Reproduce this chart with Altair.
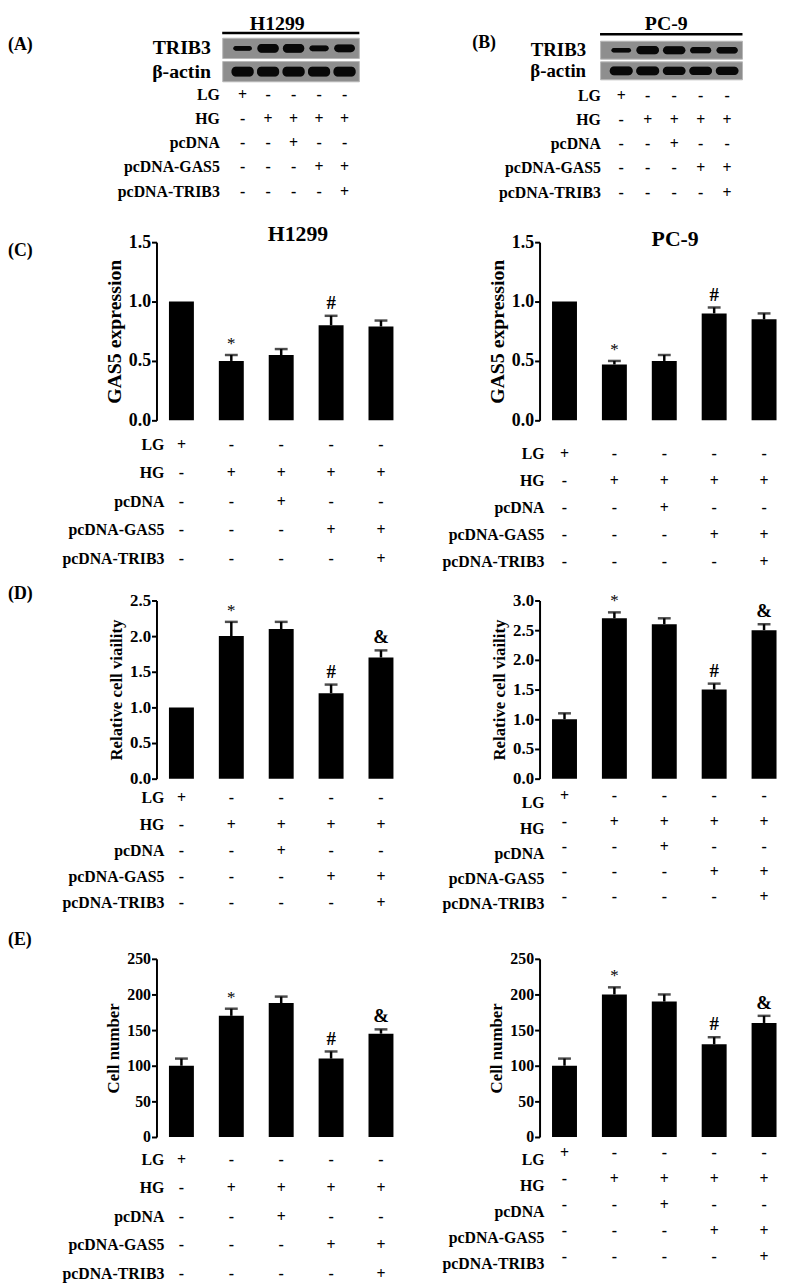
import altair as alt
import pandas as pd

FONT = "Liberation Serif"

# ---------------- data ----------------
groups = ["LG", "HG", "HG+pcDNA", "HG+pcDNA-GAS5", "HG+pcDNA-GAS5+pcDNA-TRIB3"]
rows = ["LG", "HG", "pcDNA", "pcDNA-GAS5", "pcDNA-TRIB3"]
sign_lg = ["+", "-", "-", "-", "-"]
sign_hg = ["-", "+", "+", "+", "+"]
sign_pcdna = ["-", "-", "+", "-", "-"]
sign_gas5 = ["-", "-", "-", "+", "+"]
sign_trib3 = ["-", "-", "-", "-", "+"]
signs = {"LG": sign_lg, "HG": sign_hg, "pcDNA": sign_pcdna,
         "pcDNA-GAS5": sign_gas5, "pcDNA-TRIB3": sign_trib3}

# western blot band intensities (relative)
a_trib3 = [0.45, 0.85, 0.85, 0.55, 0.75]
a_actin = [0.95, 0.95, 0.95, 0.95, 0.95]
b_trib3 = [0.50, 0.90, 0.88, 0.70, 0.72]
b_actin = [0.95, 0.95, 0.92, 0.92, 0.92]

# (C) GAS5 expression
c_h1299_mean = [1.00, 0.50, 0.55, 0.80, 0.79]
c_h1299_err = [0.00, 0.05, 0.05, 0.08, 0.05]
c_pc9_mean = [1.00, 0.47, 0.50, 0.90, 0.85]
c_pc9_err = [0.00, 0.03, 0.05, 0.05, 0.05]
c_marks = ["", "*", "", "#", ""]

# (D) Relative cell viability
d_h1299_mean = [1.00, 2.00, 2.10, 1.20, 1.70]
d_h1299_err = [0.00, 0.20, 0.10, 0.12, 0.10]
d_pc9_mean = [1.00, 2.70, 2.60, 1.50, 2.50]
d_pc9_err = [0.10, 0.10, 0.10, 0.10, 0.10]
d_marks = ["", "*", "", "#", "&"]

# (E) Cell number
e_h1299_mean = [100, 170, 188, 110, 145]
e_h1299_err = [10, 10, 9, 10, 6]
e_pc9_mean = [100, 200, 190, 130, 160]
e_pc9_err = [10, 10, 10, 10, 10]
e_marks = ["", "*", "", "#", "&"]

# ---------------- helpers ----------------
W = 252
LETTER_X = -150


def text_chart(txt, x, y, size, align="left", baseline="middle"):
    return alt.Chart(pd.DataFrame({"t": [txt]})).mark_text(
        font=FONT, fontWeight="bold", fontSize=size, align=align,
        baseline=baseline, color="black"
    ).encode(text="t:N", x=alt.value(x), y=alt.value(y))


def table(x_scale, row_range, label_x, label_dy, x_is_band=True):
    recs = []
    for r in rows:
        for i, s in enumerate(signs[r]):
            recs.append({"row": r, "group": groups[i], "lane": i + 1, "sign": s})
    sdf = pd.DataFrame(recs)
    if x_is_band:
        xenc = alt.X("group:N", scale=x_scale, axis=None)
    else:
        xenc = alt.X("lane:Q", scale=x_scale, axis=None)
    yenc = alt.Y("row:N", scale=alt.Scale(type="point", domain=rows,
                                          range=row_range, padding=0), axis=None)
    s_ch = alt.Chart(sdf).mark_text(
        font=FONT, fontWeight="bold", fontSize=16, color="black", baseline="middle"
    ).encode(x=xenc, y=yenc, text="sign:N")
    l_ch = alt.Chart(pd.DataFrame({"row": rows})).mark_text(
        font=FONT, fontWeight="bold", fontSize=16, color="black", align="right",
        baseline="middle", dy=label_dy
    ).encode(x=alt.value(label_x), y=yenc, text="row:N")
    return s_ch, l_ch


def bar_panel(mean, err, marks, ymax, tick_vals, fmt, ytitle, lab_size, title_size,
              row_range, label_x, label_dy, letter=None, letter_y=0,
              title=None, title_x=0, title_y=0):
    df = pd.DataFrame({"group": groups, "mean": mean, "err": err, "mark": marks})
    df["top"] = df["mean"] + df["err"]
    xs = alt.Scale(domain=groups, paddingInner=0.5, paddingOuter=0.25, align=0.5)
    xaxis = alt.Axis(title=None, labels=False, ticks=True, tickSize=6, tickWidth=2,
                     tickColor="black", domainColor="black", domainWidth=2, grid=False)
    xenc = alt.X("group:N", scale=xs, axis=xaxis)
    ys = alt.Scale(domain=[0, ymax], nice=False, zero=True)
    yaxis = alt.Axis(title=ytitle, values=tick_vals, format=fmt, grid=False,
                     labelFont=FONT, labelFontWeight="bold", labelFontSize=lab_size,
                     labelColor="black", labelPadding=1,
                     titleFont=FONT, titleFontWeight="bold", titleFontSize=title_size,
                     titleColor="black", titlePadding=4,
                     domainColor="black", domainWidth=2,
                     tickColor="black", tickWidth=2, tickSize=5)
    base = alt.Chart(df)
    bars = base.mark_bar(color="black").encode(
        x=xenc, y=alt.Y("mean:Q", scale=ys, axis=yaxis))
    stems = base.mark_rule(color="black", strokeWidth=2.5).encode(
        x=xenc, y=alt.Y("mean:Q", scale=ys, axis=yaxis), y2="top:Q"
    ).transform_filter("datum.err > 0")
    caps = base.mark_tick(color="black", thickness=2.5, size=13).encode(
        x=xenc, y=alt.Y("top:Q", scale=ys, axis=yaxis)
    ).transform_filter("datum.err > 0")
    stars = base.mark_text(font=FONT, fontSize=17, baseline="bottom", dy=-2,
                           color="black").encode(
        x=xenc, y=alt.Y("top:Q", scale=ys, axis=yaxis), text="mark:N"
    ).transform_filter("datum.mark == '*'")
    syms = base.mark_text(font=FONT, fontWeight="bold", fontSize=19, baseline="bottom",
                          dy=-3, color="black").encode(
        x=xenc, y=alt.Y("top:Q", scale=ys, axis=yaxis), text="mark:N"
    ).transform_filter("datum.mark == '#' || datum.mark == '&'")
    s_ch, l_ch = table(xs, row_range, label_x, label_dy)
    layers = [alt.layer(bars, stems, caps, stars, syms), alt.layer(s_ch, l_ch)]
    if letter:
        layers.append(text_chart(letter, LETTER_X, letter_y, 18))
    if title:
        layers.append(text_chart(title, title_x, title_y, 22, align="center"))
    return alt.layer(*layers).resolve_scale(y="independent").properties(width=W, height=180)


def blot_panel(trib3, actin, lane_range, y_range, line_y, row_range, label_x, blot_label_x,
               blot_label_size, title, title_x, title_y, letter, letter_x, letter_y):
    xs = alt.Scale(domain=[0, 6], range=lane_range, nice=False, zero=False)
    ys = alt.Scale(domain=[0, 2], range=y_range, nice=False, zero=False)
    proteins = ["TRIB3", "β-actin"]
    bg = pd.DataFrame({"protein": proteins, "x0": [0.22, 0.22], "x1": [5.58, 5.58],
                       "y0": [0.0, 1.07], "y1": [0.93, 2.0], "yc": [0.465, 1.535]})
    recs = []
    for p, vals, yc in [("TRIB3", trib3, 0.465), ("β-actin", actin, 1.535)]:
        for i, v in enumerate(vals):
            lane = i + 1
            hw = 0.30 + 0.14 * v
            ht = 0.235 * v
            recs.append({"protein": p, "x0": lane - hw, "x1": lane + hw,
                         "y0": yc - ht, "y1": yc + ht})
    bands = pd.DataFrame(recs)
    line = pd.DataFrame({"x0": [0.2], "x1": [5.58], "y": [line_y]})
    bg_ch = alt.Chart(bg).mark_rect(color="#8e8e8e", stroke="#b8b8b8", strokeWidth=1).encode(
        x=alt.X("x0:Q", scale=xs, axis=None), x2="x1:Q",
        y=alt.Y("y0:Q", scale=ys, axis=None), y2="y1:Q")
    glow = alt.Chart(bands).mark_rect(color="#2a2a2a", cornerRadius=6, opacity=0.55).encode(
        x=alt.X("x0:Q", scale=xs, axis=None), x2="x1:Q",
        y=alt.Y("y0:Q", scale=ys, axis=None), y2="y1:Q")
    band_ch = alt.Chart(bands).mark_rect(color="#080808", cornerRadius=4).encode(
        x=alt.X("x0:Q", scale=xs, axis=None), x2="x1:Q",
        y=alt.Y("y0:Q", scale=ys, axis=None), y2="y1:Q")
    line_ch = alt.Chart(line).mark_rule(color="black", strokeWidth=2.5).encode(
        x=alt.X("x0:Q", scale=xs, axis=None), x2="x1:Q",
        y=alt.Y("y:Q", scale=ys, axis=None))
    lab_ch = alt.Chart(bg).mark_text(font=FONT, fontWeight="bold", fontSize=blot_label_size,
                                     align="right", baseline="middle", color="black").encode(
        x=alt.value(blot_label_x), y=alt.Y("yc:Q", scale=ys, axis=None), text="protein:N")
    s_ch, l_ch = table(xs, row_range, label_x, 0, x_is_band=False)
    layers = [alt.layer(bg_ch, glow, band_ch, line_ch, lab_ch), alt.layer(s_ch, l_ch),
              text_chart(title, title_x, title_y, 20, align="center", baseline="top"),
              text_chart(letter, letter_x, letter_y, 18)]
    return alt.layer(*layers).resolve_scale(y="independent").properties(width=W, height=48)


A = blot_panel(a_trib3, a_actin, [61.25, 215.75], [24, 68], -0.24, [81, 179], 64, 55, 20,
               "H1299", 122, 0, "(A)", LETTER_X, 31)
B = blot_panel(b_trib3, b_actin, [55.75, 216.25], [27, 66], -0.36, [82, 180], 62, 47, 19,
               "PC-9", 128, 0, "(B)", -68, 29)

C1 = bar_panel(c_h1299_mean, c_h1299_err, c_marks, 1.5, [0, 0.5, 1.0, 1.5], ".1f",
               "GAS5 expression", 18, 20, [205, 320], 8, 0,
               letter="(C)", letter_y=9, title="H1299", title_x=143, title_y=-8)
C2 = bar_panel(c_pc9_mean, c_pc9_err, c_marks, 1.5, [0, 0.5, 1.0, 1.5], ".1f",
               "GAS5 expression", 18, 20, [214, 323], 5, 0,
               title="PC-9", title_x=137, title_y=-3)
D1 = bar_panel(d_h1299_mean, d_h1299_err, d_marks, 2.5, [0, 0.5, 1.0, 1.5, 2.0, 2.5], ".1f",
               "Relative cell viaility", 17, 17, [200, 306], 8, 0,
               letter="(D)", letter_y=-7)
D2 = bar_panel(d_pc9_mean, d_pc9_err, d_marks, 3.0, [0, 0.5, 1.0, 1.5, 2.0, 2.5, 3.0], ".1f",
               "Relative cell viaility", 17, 17, [198, 300], 5, 7)
E1 = bar_panel(e_h1299_mean, e_h1299_err, e_marks, 250, [0, 50, 100, 150, 200, 250], "d",
               "Cell number", 16, 17, [203, 318], 8, 0,
               letter="(E)", letter_y=-19)
E2 = bar_panel(e_pc9_mean, e_pc9_err, e_marks, 250, [0, 50, 100, 150, 200, 250], "d",
               "Cell number", 16, 17, [196, 301], 5, 7)

chart = alt.concat(
    A, B, C1, C2, D1, D2, E1, E2, columns=2,
    spacing={"row": 182, "column": 135}, bounds="flush", align="each"
).properties(
    padding=0
).configure_view(stroke=None)

chart.save("out.html", embed_options={"renderer": "svg", "actions": False})
